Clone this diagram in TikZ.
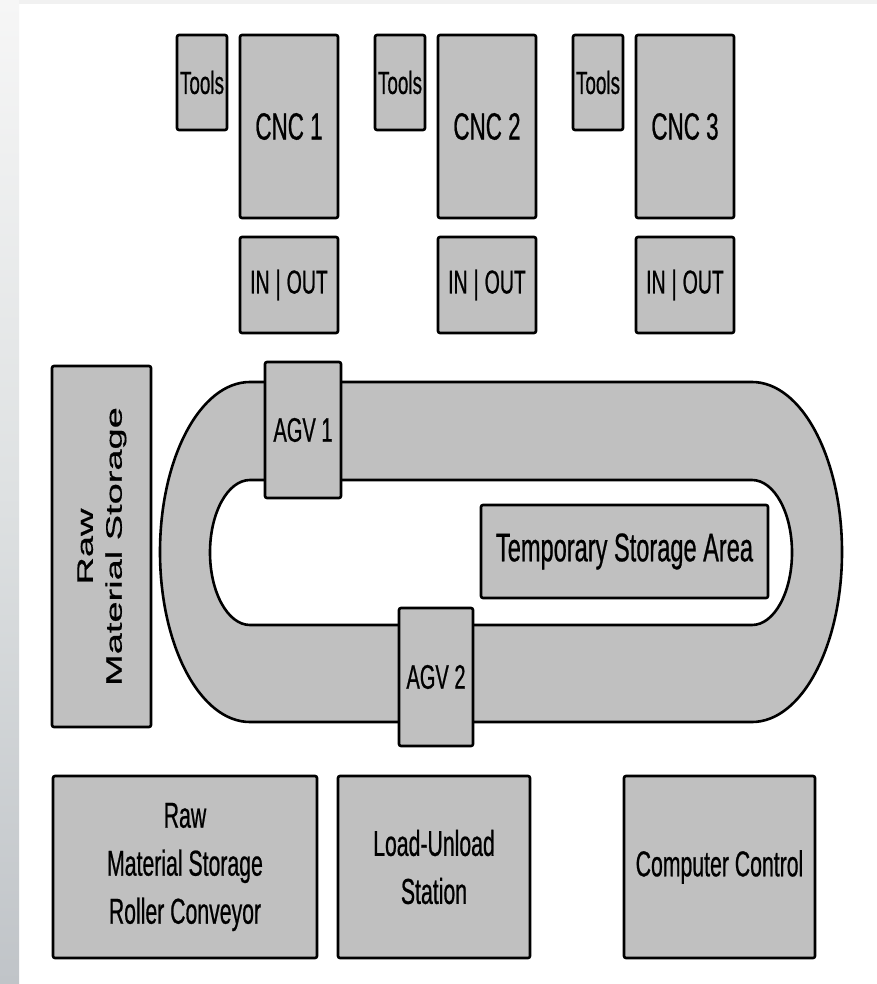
\documentclass[tikz,border=0pt]{standalone}
\usepackage{fontspec}
\usepackage{graphicx}
\setmainfont{Liberation Sans}[FakeBold=0.6]
\newfontfamily\narrowfont[FakeStretch=0.59,FakeBold=0.6]{Liberation Sans}
\newfontfamily\widefont[FakeBold=0.6]{Liberation Sans}
\definecolor{boxgray}{RGB}{192,192,192}
\definecolor{stripTop}{RGB}{246,246,246}
\definecolor{stripMid}{RGB}{222,225,226}
\definecolor{stripBot}{RGB}{192,196,200}
\definecolor{topstrip}{RGB}{241,241,241}
\tikzset{
  box/.style={draw=black, fill=boxgray, line width=2.6pt, rounded corners=2pt,
    inner sep=0pt, align=center},
  trackline/.style={draw=black, line width=2.6pt},
  fsize/.style 2 args={font=\narrowfont\fontsize{#1}{#2}\selectfont}
}
\begin{document}
\begin{tikzpicture}[x=1pt,y=-1pt]
\useasboundingbox (0,0) rectangle (877,984);
% background
\fill[white] (0,0) rectangle (877,984);
\shade[top color=stripTop, bottom color=stripBot, middle color=stripMid] (0,0) rectangle (19,984);
\fill[topstrip] (19,0) rectangle (877,4);
% track
\path[trackline, fill=boxgray] (250,382) -- (752,382)
  arc[start angle=-90, end angle=90, x radius=90, y radius=170]
  -- (250,722)
  arc[start angle=90, end angle=270, x radius=90, y radius=170] -- cycle;
\path[trackline, fill=white] (250,480) -- (752,480)
  arc[start angle=-90, end angle=90, x radius=40, y radius=72.5]
  -- (250,625)
  arc[start angle=90, end angle=270, x radius=40, y radius=72.5] -- cycle;
% temporary storage
\node[box, fsize={40}{50}, minimum width=287pt, minimum height=93pt] (temp) at (624.5,551.5) {Temporary Storage Area};
% AGVs
\node[box, fsize={34}{43}, minimum width=76pt, minimum height=136pt] (agv1) at (303,430) {AGV 1};
\node[box, fsize={34}{43}, minimum width=74pt, minimum height=138pt] (agv2) at (436,677) {AGV 2};
% CNC columns
\foreach \i/\dx in {1/0, 2/198, 3/396} {
  \node[box, fsize={32}{40}, minimum width=50pt, minimum height=95pt] (tools\i) at (202+\dx,82.5) {Tools};
  \node[box, fsize={38}{48}, minimum width=98pt, minimum height=183pt] (cnc\i) at (289+\dx,126.5) {CNC \i};
  \node[box, fsize={33}{42}, minimum width=98pt, minimum height=96pt] (io\i) at (289+\dx,285) {IN\hspace{6pt}|\hspace{6pt}OUT};
}
% raw material storage (vertical)
\node[box, minimum width=99pt, minimum height=361pt] (rawv) at (101.5,546.5) {};
\node[rotate=90, inner sep=0pt] (rawvtext) at (rawv.center) {\scalebox{1}[0.59]{\widefont\fontsize{38}{49}\selectfont\begin{tabular}{@{}c@{}}Raw\\Material Storage\end{tabular}}};
% bottom row
\node[box, fsize={36}{48}, minimum width=264pt, minimum height=182pt] (rawconv) at (185,867) {Raw\\Material Storage\\Roller Conveyor};
\node[box, fsize={36}{48}, minimum width=192pt, minimum height=182pt] (load) at (434,867) {Load-Unload\\Station};
\node[box, fsize={36}{48}, minimum width=191pt, minimum height=182pt] (comp) at (719.5,867) {Computer Control};
\end{tikzpicture}
\end{document}
